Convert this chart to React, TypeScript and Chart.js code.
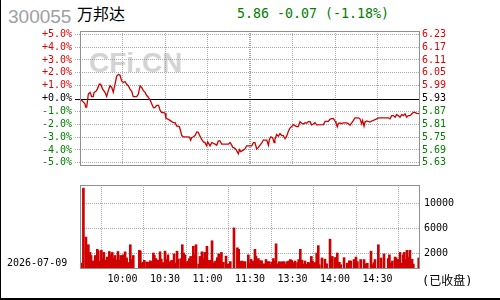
import React, { useEffect, useRef } from "react";
import { Chart, registerables } from "chart.js";
Chart.register(...registerables);

// ---- data ----
const stockCode = "300055";
const stockName = "万邦达";
const quoteText = "5.86 -0.07 (-1.18%)";
const dateText = "2026-07-09";
const statusText = "(已收盘)";
const prevClose = 5.93;

// minutes since 9:30 (trading minutes, 0..240) and % change vs previous close
const priceMinutes = [
  0, 1.2, 2.4, 3.5, 4.0, 4.7, 5.2, 5.9, 7.1, 8.2, 9.4, 9.9, 11.3, 12.2, 13.6, 14.6, 16, 17.6, 18.8, 20,
  21.2, 22.4, 23.5, 24.7, 25.9, 27.1, 28.2, 29.4, 30.6, 31.8, 32.9, 34.1, 35.3, 36.5, 37.6, 40, 41.2, 42.4, 43.5, 44.7,
  45.9, 47.1, 48.2, 49.4, 50.6, 51.8, 52.9, 54.1, 55.5, 56.5, 57.6, 58.8, 60, 60.7, 62.4, 63.5, 64.7, 65.9, 67.1, 68.2,
  70.1, 71.1, 71.8, 73, 75.3, 77.2, 78.1, 78.8, 80, 81.2, 82.4, 83.5, 84.7, 85.9, 87.1, 88.2, 89.4, 90.1, 91.1, 91.8,
  93, 94.1, 95.3, 96.5, 97.6, 98.8, 100, 104.7, 105.9, 107.1, 107.8, 109.4, 110.6, 111.8, 112.5, 113.4, 114.6, 115.8, 116.7, 117.6,
  121.2, 122.4, 123.5, 124.7, 125.9, 127.1, 128.2, 129.4, 131.8, 133, 133.6, 134.6, 136, 137, 137.6, 138.8, 140, 141.2, 142.4, 143.5,
  144.7, 145.9, 147.1, 148.2, 149.4, 150.6, 153, 154.1, 155.3, 156.5, 157.6, 158.8, 160, 161.2, 162.4, 163.5, 164.7, 165.9, 167.1, 171.8,
  173, 175.3, 176.5, 178.8, 180, 180.7, 181.6, 182.3, 183.5, 184.7, 185.9, 188.2, 189.4, 190.6, 191.8, 193, 194.1, 196.5, 197.6, 198.8,
  199.5, 200.5, 201.2, 202.4, 204.7, 205.9, 207.1, 208.2, 209.4, 210.6, 217.6, 218.8, 220, 221.2, 222.4, 223.5, 224.7, 225.9, 227.1, 228.2,
  229.4, 230.6, 231.8, 232.9, 234.1, 235.3, 236.5, 237.6, 240,
];
const pricePct = [
  -0.1, -0.15, -0.28, -0.41, -0.66, -0.66, -0.28, 0.35, 0.48, 0.15, 0.15, 0.48, 0.56, 0.73, 1.11, 1.11, 0.73, 0.48, 0.15, 0.61,
  0.99, 0.86, 0.48, 1.11, 1.75, 1.87, 1.82, 1.37, 1.24, 1.32, 1.11, 0.99, 0.73, 0.56, 0.15, 0.15, 0.35, 0.99, 0.86, 0.61,
  0.48, 0.23, 0.1, -0.1, -0.41, -0.71, -0.71, -0.53, -0.53, -0.91, -1.1, -1.08, -1.15, -1.55, -1.63, -1.7, -1.8, -1.88, -1.88, -2.13,
  -2.18, -2.55, -2.88, -2.98, -2.98, -3.0, -3.25, -3.05, -2.98, -2.88, -2.6, -2.63, -2.93, -3.18, -3.38, -3.43, -3.68, -3.38, -3.55, -3.68,
  -3.43, -3.48, -3.55, -3.63, -3.3, -3.3, -3.55, -3.55, -3.43, -3.63, -3.8, -3.88, -4.05, -4.3, -3.98, -4.13, -4.05, -3.98, -3.88, -3.68,
  -3.68, -3.43, -3.43, -3.93, -3.8, -3.63, -3.48, -3.23, -3.23, -3.63, -3.23, -2.98, -3.05, -3.43, -3.18, -2.8, -2.93, -2.73, -2.88, -2.88,
  -3.13, -2.93, -2.55, -2.3, -2.18, -2.05, -2.18, -2.18, -1.8, -1.93, -1.98, -1.88, -1.93, -1.8, -1.8, -2.05, -1.98, -1.88, -2.05, -2.03,
  -1.78, -1.78, -1.6, -1.55, -1.75, -1.9, -2.2, -1.95, -1.9, -1.95, -1.9, -1.9, -1.95, -2.08, -1.9, -1.7, -1.5, -1.5, -1.58, -1.95,
  -1.7, -2.15, -1.83, -1.75, -1.83, -1.75, -1.7, -1.65, -1.58, -1.5, -1.5, -1.58, -1.33, -1.33, -1.45, -1.25, -1.33, -1.45, -1.25, -1.33,
  -1.2, -1.45, -1.33, -1.33, -1.2, -1.08, -1.08, -1.15, -1.18,
];

const volMinutes = [
  0.7, 2.4, 4.2, 5.9, 7.1, 7.8, 9.4, 10.1, 10.8, 12.2, 12.9, 14.1, 15.1, 15.8, 16.9, 17.6, 19.3, 20.0, 20.7, 21.9,
  22.8, 23.8, 24.7, 25.9, 26.8, 27.8, 28.7, 29.6, 30.4, 31.8, 32.9, 34.1, 34.8, 35.5, 36.5, 37.6, 41.9, 42.6, 44.0, 44.7,
  45.4, 47.1, 48.7, 49.6, 50.4, 51.8, 52.5, 53.6, 55.3, 56.5, 57.4, 58.8, 60.0, 61.2, 62.1, 63.5, 64.7, 66.4, 67.3, 68.5,
  69.4, 71.3, 72.2, 73.2, 74.1, 75.3, 76.2, 77.2, 78.1, 79.1, 80.0, 80.9, 81.9, 83.8, 84.7, 86.1, 87.1, 88.0, 88.9, 89.6,
  91.3, 92.2, 93.2, 94.1, 95.1, 96.0, 96.9, 97.9, 98.8, 99.8, 101.2, 103.1, 104.7, 106.1, 108.7, 111.1, 112.0, 113.4, 114.1, 115.3,
  116.5, 118.8, 119.8,
  120.7, 121.9, 123.5, 124.2, 125.9, 127.1, 128.2, 129.4, 130.6, 131.3, 132.5, 133.6, 134.6, 135.5, 136.5, 137.4, 138.4, 139.3, 140.7, 141.6,
  142.6, 143.5, 144.2, 145.4, 146.4, 147.3, 148.5, 149.4, 150.6, 151.8, 153.6, 154.4, 155.5, 156.7, 157.6, 158.8, 160.0, 161.2, 162.4, 163.3,
  164.2, 165.2, 166.1, 167.1, 168.2, 168.9, 170.8, 172.9, 174.1, 176.5, 178.1, 180.0, 180.7, 181.6, 183.1, 184.0, 186.4, 188.7, 190.1, 191.1,
  193.4, 194.8, 195.8, 198.1, 200.5, 201.6, 202.8, 205.4, 206.1, 207.5, 208.2, 210.6, 212.5, 214.6, 217.6, 218.4, 219.5, 220.5, 222.4, 223.1,
  224.7, 225.9, 227.1, 228.2, 228.9, 229.9, 230.8, 232.0, 232.9, 234.4, 235.3, 239.1,
];
const volValues = [
  420, 12450, 4600, 3370, 2140, 1650, 760, 760, 1650, 2630, 2390, 760, 2480, 1150, 2140, 900, 1400, 1050, 2290, 1750,
  2140, 1150, 1650, 900, 2290, 900, 1650, 660, 1750, 2240, 1250, 510, 410, 3370, 1000, 1650, 2480, 2340, 410, 560,
  860, 610, 560, 800, 660, 2040, 1650, 1150, 900, 2240, 1050, 510, 2340, 1000, 1750, 660, 860, 1900, 410, 2340,
  1050, 1150, 3370, 2040, 1750, 510, 760, 1150, 1500, 1000, 3130, 1750, 3370, 270, 1500, 2240, 1150, 2140, 1250, 3130,
  860, 860, 4010, 410, 660, 760, 1300, 1900, 800, 2140, 560, 1550, 270, 660, 6080, 2880, 2630, 660, 760, 660,
  660, 1750, 410,
  1050, 760, 2630, 1550, 1150, 800, 800, 320, 270, 1000, 660, 660, 170, 560, 1150, 760, 3520, 320, 660, 510,
  660, 170, 660, 270, 660, 760, 1000, 860, 510, 760, 510, 1000, 2630, 900, 270, 760, 270, 560, 410, 1500,
  760, 360, 510, 2040, 3230, 170, 1250, 1050, 320, 4260, 1500, 1300, 1300, 2040, 560, 170, 1300, 410, 800, 760,
  1000, 1400, 660, 1000, 1000, 320, 410, 2340, 170, 510, 1000, 3370, 1250, 1900, 1150, 1750, 410, 760, 1400, 1250,
  1000, 2140, 410, 1750, 2140, 1000, 2480, 1400, 2480, 1050, 270, 1250,
];

const pctTicks = [5, 4, 3, 2, 1, 0, -1, -2, -3, -4, -5];
const volTicks = [2000, 6000, 10000];
const timeTicks = [30, 60, 90, 120, 150, 180, 210];
const timeLabels = ["10:00", "10:30", "11:00", "11:30", "13:30", "14:00", "14:30"];

// ---- styles ----
const RED = "#e60000";
const LINE_RED = "#d00000";
const GREEN = "#008000";
const GRID = "#a8a8a8";
const FRAME = "#909090";
const MONO = "'DejaVu Sans Mono', 'Noto Sans CJK SC', monospace";
const LUNCH = 120;
const LUNCH_GAP = 0.7;

const gridMinutes = [...timeTicks.filter((t) => t !== LUNCH), LUNCH - LUNCH_GAP, LUNCH, LUNCH + LUNCH_GAP].sort((a, b) => a - b);

const pctColor = (v: number) => (v > 0 ? RED : v < 0 ? GREEN : "#000");

const framePlugin = {
  id: "frame",
  afterDraw(chart: any) {
    const { ctx, chartArea } = chart;
    ctx.save();
    ctx.strokeStyle = FRAME;
    ctx.lineWidth = 1;
    ctx.strokeRect(chartArea.left + 0.5, chartArea.top + 0.5, chartArea.right - chartArea.left - 1, chartArea.bottom - chartArea.top - 1);
    ctx.restore();
  },
};

const zeroLinePlugin = {
  id: "zeroLine",
  beforeDatasetsDraw(chart: any) {
    const { ctx, chartArea, scales } = chart;
    const y = Math.round(scales.y.getPixelForValue(0)) + 0.5;
    ctx.save();
    ctx.strokeStyle = "#000";
    ctx.lineWidth = 1;
    ctx.beginPath();
    ctx.moveTo(chartArea.left - 5, y);
    ctx.lineTo(chartArea.right, y);
    ctx.stroke();
    ctx.restore();
  },
};

const xGridColor = (ctx: any) => (ctx.tick && ctx.tick.value === LUNCH ? "rgba(0,0,0,0)" : GRID);

export default function App() {
  const priceRef = useRef<HTMLCanvasElement>(null);
  const volRef = useRef<HTMLCanvasElement>(null);

  useEffect(() => {
    const tickFont = { family: MONO, size: 10 };
    const price = new Chart(priceRef.current!, {
      type: "line",
      data: {
        datasets: [
          {
            data: priceMinutes.map((m, i) => ({ x: m, y: pricePct[i] })),
            borderColor: LINE_RED,
            borderWidth: 1.3,
            pointRadius: 0,
            tension: 0,
            yAxisID: "y",
          },
        ],
      },
      options: {
        animation: false,
        responsive: false,
        events: [],
        layout: { padding: { top: 31, bottom: 7, left: 0, right: 0 } },
        plugins: { legend: { display: false }, tooltip: { enabled: false } },
        scales: {
          x: {
            type: "linear",
            min: 0,
            max: 240,
            afterBuildTicks: (s: any) => {
              s.ticks = gridMinutes.map((v) => ({ value: v }));
            },
            ticks: { display: false },
            grid: { color: xGridColor, drawTicks: false, lineWidth: 1 },
            border: { display: false, dash: [1, 1] },
            afterFit: (s: any) => {
              s.height = 0;
            },
          },
          y: {
            position: "left",
            min: -5.25,
            max: 5.25,
            afterBuildTicks: (s: any) => {
              s.ticks = pctTicks.map((v) => ({ value: v }));
            },
            ticks: {
              autoSkip: false,
              callback: (v: any) => (v >= 0 ? "+" : "") + Number(v).toFixed(1) + "%",
              color: (c: any) => pctColor(c.tick.value),
              font: tickFont,
              padding: 3,
            },
            grid: {
              color: (c: any) => (c.tick && c.tick.value === 0 ? "rgba(0,0,0,0)" : GRID),
              tickColor: (c: any) => (c.tick && c.tick.value === 0 ? "rgba(0,0,0,0)" : GRID),
              tickLength: 5,
              drawTicks: true,
              tickBorderDash: [1, 1],
            },
            border: { display: false, dash: [1, 1] },
            afterFit: (s: any) => {
              s.width = 80;
            },
          },
          y2: {
            position: "right",
            min: -5.25,
            max: 5.25,
            afterBuildTicks: (s: any) => {
              s.ticks = pctTicks.map((v) => ({ value: v }));
            },
            ticks: {
              autoSkip: false,
              callback: (v: any) => (prevClose * (1 + Number(v) / 100)).toFixed(2),
              color: (c: any) => pctColor(c.tick.value),
              font: tickFont,
              padding: 2,
            },
            grid: { display: false, drawTicks: false },
            border: { display: false },
            afterFit: (s: any) => {
              s.width = 80;
            },
          },
        },
      } as any,
      plugins: [zeroLinePlugin, framePlugin],
    });

    const vol = new Chart(volRef.current!, {
      type: "bar",
      data: {
        datasets: [
          {
            data: volMinutes.map((m, i) => ({ x: m, y: volValues[i] })),
            backgroundColor: LINE_RED,
            barThickness: 2,
            base: -520,
            grouped: false,
          } as any,
        ],
      },
      options: {
        animation: false,
        responsive: false,
        events: [],
        layout: { padding: { top: 3, bottom: 0, left: 80, right: 0 } },
        plugins: { legend: { display: false }, tooltip: { enabled: false } },
        scales: {
          x: {
            type: "linear",
            min: 0,
            max: 240,
            offset: false,
            afterBuildTicks: (s: any) => {
              s.ticks = gridMinutes.map((v) => ({ value: v }));
            },
            ticks: {
              autoSkip: false,
              maxRotation: 0,
              minRotation: 0,
              color: "#000",
              font: tickFont,
              padding: 4,
              callback: (v: any) => {
                const i = timeTicks.indexOf(Number(v));
                return i >= 0 ? timeLabels[i] : "";
              },
            },
            grid: { color: xGridColor, drawTicks: false, lineWidth: 1 },
            border: { display: false, dash: [1, 1] },
            afterFit: (s: any) => {
              s.height = 31;
            },
          },
          y: {
            position: "right",
            min: -520,
            max: 12950,
            afterBuildTicks: (s: any) => {
              s.ticks = volTicks.map((v) => ({ value: v }));
            },
            ticks: { autoSkip: false, color: "#000", font: tickFont, padding: 4, callback: (v: any) => String(v) },
            grid: { color: GRID, drawTicks: false },
            border: { display: false, dash: [1, 1] },
            afterFit: (s: any) => {
              s.width = 80;
            },
          },
        },
      } as any,
      plugins: [framePlugin],
    });

    return () => {
      price.destroy();
      vol.destroy();
    };
  }, []);

  const abs = (extra: React.CSSProperties): React.CSSProperties => ({ position: "absolute", whiteSpace: "nowrap", ...extra });

  return (
    <div style={{ position: "fixed", left: 0, top: 0, width: 500, height: 300, background: "#fff", overflow: "hidden" }}>
      <div style={abs({ left: 89, top: 49, fontFamily: "'Liberation Sans', Arial, sans-serif", fontWeight: "bold", fontSize: 28, lineHeight: "28px", color: "#d4d4d4" })}>CFi.CN</div>
      <div style={abs({ left: 8, top: 7, fontFamily: "'Liberation Sans', Arial, sans-serif", fontSize: 19, lineHeight: "19px", color: "#a0a0a0" })}>{stockCode}</div>
      <div style={abs({ left: 77, top: 5, fontFamily: "'Noto Sans CJK SC', sans-serif", fontSize: 16, lineHeight: "16px", color: "#000" })}>{stockName}</div>
      <div style={abs({ left: 237, top: 7, fontFamily: MONO, fontSize: 13.3, lineHeight: "13.3px", color: GREEN })}>{quoteText}</div>
      <canvas ref={priceRef} width={500} height={175} style={{ position: "absolute", left: 0, top: 0, width: 500, height: 175 }} />
      <canvas ref={volRef} width={500} height={125} style={{ position: "absolute", left: 0, top: 175, width: 500, height: 125 }} />
      <div style={abs({ left: 7, top: 258, fontFamily: MONO, fontSize: 10, lineHeight: "10px", color: "#000" })}>{dateText}</div>
      <div style={abs({ left: 422, top: 275, fontFamily: MONO, fontSize: 12, lineHeight: "12px", color: "#000" })}>{statusText}</div>
      <div style={abs({ left: 0, top: 0, width: 1, height: 300, background: "#000" })} />
      <div style={abs({ left: 0, top: 298, width: 500, height: 2, background: "#000" })} />
    </div>
  );
}
